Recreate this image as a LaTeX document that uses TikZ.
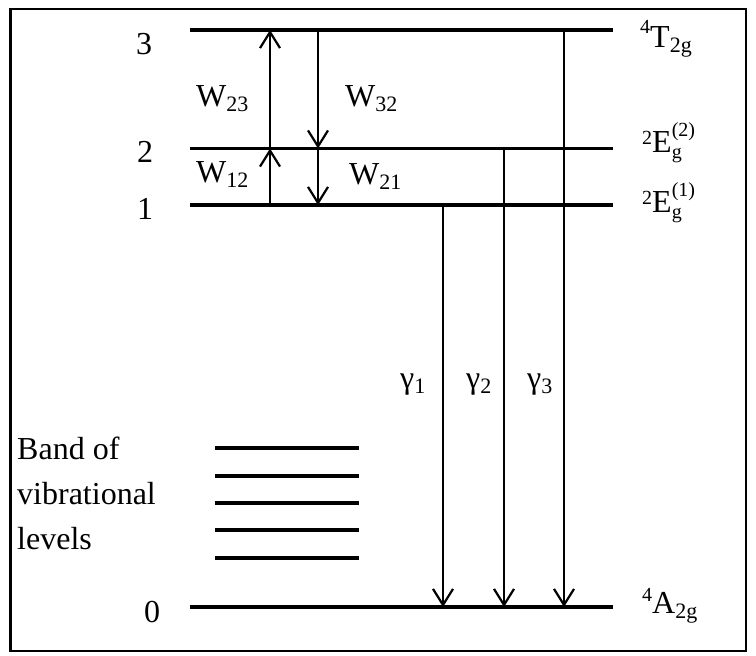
\documentclass[tikz,border=0pt]{standalone}
\usepackage{fontspec}
\setmainfont{Liberation Serif}
\usetikzlibrary{arrows.meta}
\newcommand\sbs[1]{\raisebox{-5pt}{\fontsize{22}{22}\selectfont #1}}
\newcommand\sps[2]{\raisebox{#1}{\fontsize{20}{20}\selectfont #2}}
\newcommand\EgSS[1]{E\rlap{\raisebox{-6pt}{\fontsize{20}{20}\selectfont g}}\sps{16pt}{(#1)}}
\tikzset{
  lvl/.style={line width=3.4pt},
  arr/.style={line width=2.2pt, -{Straight Barb[length=16pt,width=20pt,line width=2.2pt]}},
  lab/.style={inner sep=0pt, anchor=base},
  labw/.style={inner sep=0pt, anchor=base west},
}
\begin{document}
\begin{tikzpicture}[x=1pt,y=-1pt,font=\fontsize{32}{45}\selectfont]
\useasboundingbox (0,0) rectangle (756,656);
\fill[white] (0,0) rectangle (756,656);
\draw[line width=2.2pt] (10.5,9) rectangle (746,651);
% level end points
\coordinate (L3a) at (190,30);   \coordinate (L3b) at (613,30);
\coordinate (L2a) at (190,148.5);\coordinate (L2b) at (613,148.5);
\coordinate (L1a) at (190,205);  \coordinate (L1b) at (613,205);
\coordinate (L0a) at (190,607);  \coordinate (L0b) at (613,607);
\draw[lvl] (L3a) -- (L3b);
\draw[lvl] (L2a) -- (L2b);
\draw[lvl] (L1a) -- (L1b);
\draw[lvl] (L0a) -- (L0b);
% band of vibrational levels
\foreach \i/\y in {1/448,2/476,3/503,4/530,5/558}{
  \coordinate (B\i a) at (215,\y); \coordinate (B\i b) at (359,\y);
  \draw[lvl] (B\i a) -- (B\i b);
}
% transition coordinates
\coordinate (w23s) at (270,148.5); \coordinate (w23e) at (270,30);
\coordinate (w12s) at (270,205);   \coordinate (w12e) at (270,148.5);
\coordinate (w32s) at (318,30);    \coordinate (w32e) at (318,148.5);
\coordinate (w21s) at (318,148.5); \coordinate (w21e) at (318,205);
\coordinate (g1s) at (443,205); \coordinate (g1e) at (443,607);
\coordinate (g2s) at (504,148.5); \coordinate (g2e) at (504,607);
\coordinate (g3s) at (564,30); \coordinate (g3e) at (564,607);
\draw[arr] (w23s) -- (w23e);
\draw[arr] (w12s) -- (w12e);
\draw[arr] (w32s) -- (w32e);
\draw[arr] (w21s) -- (w21e);
\draw[arr] (g1s) -- (g1e);
\draw[arr] (g2s) -- (g2e);
\draw[arr] (g3s) -- (g3e);
% level numbers
\node[lab] (n3) at (144,54) {3};
\node[lab] (n2) at (145,162) {2};
\node[lab] (n1) at (145,219) {1};
\node[lab] (n0) at (152,622) {0};
% rate labels
\node[labw] (W23) at (196,106) {W\sbs{23}};
\node[labw] (W12) at (196,182) {W\sbs{12}};
\node[labw] (W32) at (345,106) {W\sbs{32}};
\node[labw] (W21) at (349,184) {W\sbs{21}};
% gamma labels
\node[labw] (gl1) at (400,388) {γ\sbs{1}};
\node[labw] (gl2) at (466,388) {γ\sbs{2}};
\node[labw] (gl3) at (527,388) {γ\sbs{3}};
% state labels
\node[labw] (T2g) at (640,47) {\sps{14pt}{4}T\sbs{2g}};
\node[labw] (E2) at (642,152) {\sps{8pt}{2}\EgSS{2}};
\node[labw] (E1) at (642,212) {\sps{8pt}{2}\EgSS{1}};
\node[labw] (A2g) at (642,613) {\sps{12pt}{4}A\sbs{2g}};
% band label
\node[inner sep=0pt, anchor=west, align=left] (band) at (17,493.5) {Band of\\vibrational\\levels};
\end{tikzpicture}
\end{document}
